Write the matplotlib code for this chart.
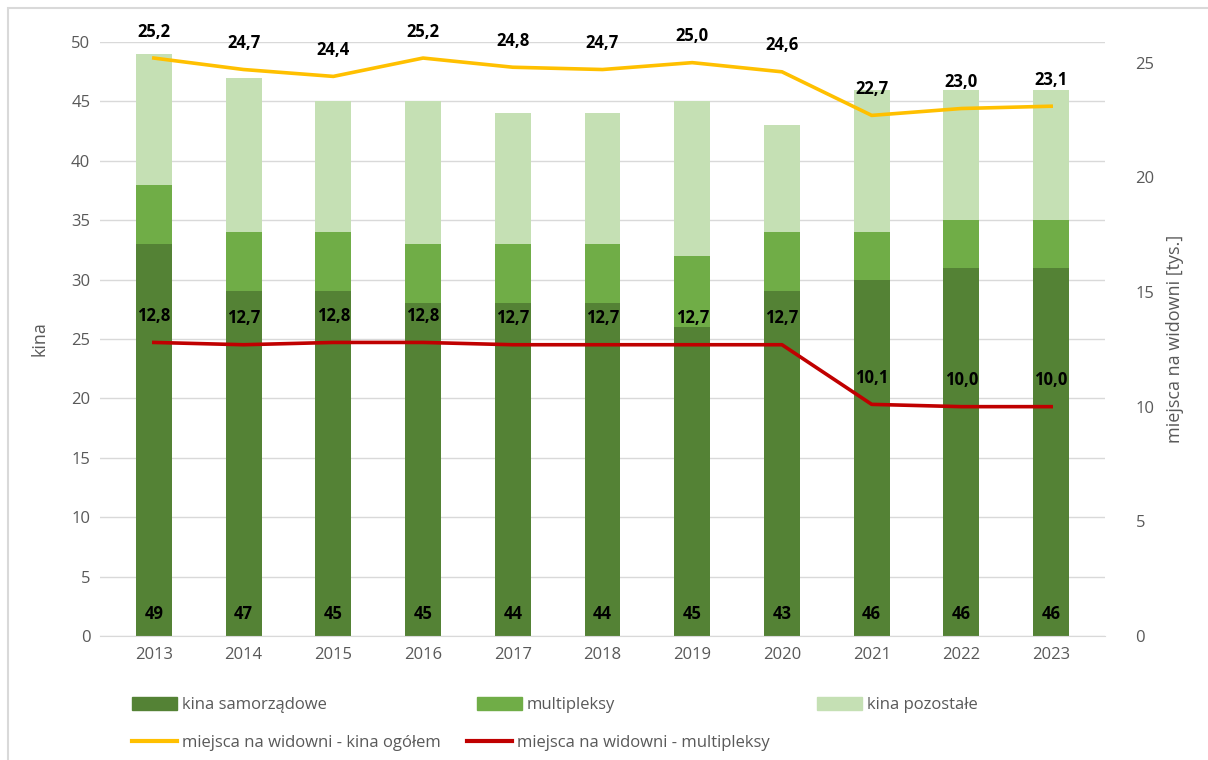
import matplotlib
matplotlib.use('agg')
import matplotlib.pyplot as plt
from matplotlib.patches import Patch, Rectangle
from matplotlib.lines import Line2D
import numpy as np

plt.rcParams['font.family'] = ['Open Sans', 'DejaVu Sans']

years = ["2013", "2014", "2015", "2016", "2017", "2018", "2019", "2020", "2021", "2022", "2023"]
samorzadowe = [33, 29, 29, 28, 28, 28, 26, 29, 30, 31, 31]
multipleksy = [5, 5, 5, 5, 5, 5, 6, 5, 4, 4, 4]
pozostale = [11, 13, 11, 12, 11, 11, 13, 9, 12, 11, 11]
miejsca_ogolem = [25.2, 24.7, 24.4, 25.2, 24.8, 24.7, 25.0, 24.6, 22.7, 23.0, 23.1]
miejsca_multi = [12.8, 12.7, 12.8, 12.8, 12.7, 12.7, 12.7, 12.7, 10.1, 10.0, 10.0]

c_dark = "#548235"
c_mid = "#70AD47"
c_light = "#C5E0B4"
c_yellow = "#FFC000"
c_red = "#C00000"
grey = "#595959"

def fmt(v):
	return ("%.1f" % v).replace(".", ",")

fig = plt.figure(figsize=(12.08, 7.6), dpi=100)
ax = fig.add_axes([100/1208, 1-636/760, 1005/1208, 594/760])
ax2 = ax.twinx()

x = np.arange(len(years))
s = np.array(samorzadowe)
m = np.array(multipleksy)
p = np.array(pozostale)
w = 0.4
ax.bar(x, s, w, color=c_dark, zorder=2)
ax.bar(x, m, w, bottom=s, color=c_mid, zorder=2)
ax.bar(x, p, w, bottom=s+m, color=c_light, zorder=2)
total = s + m + p
for xi, t in zip(x, total):
	ax.annotate(str(t), (xi, 0), xytext=(0, 16), textcoords='offset points',
		ha='center', va='center', fontsize=12, fontweight='bold', color='black')

ax.set_ylim(0, 50)
ax.set_xlim(-0.6, len(years)-0.4)
ax.set_yticks(range(0, 51, 5))
ax.set_xticks(x)
ax.set_xticklabels(years)
ax.grid(axis='y', color='#d9d9d9', lw=1, zorder=0)
ax.set_axisbelow(True)
for sp in ['top', 'right', 'left']:
	ax.spines[sp].set_visible(False)
ax.spines['bottom'].set_color('#d9d9d9')
ax.tick_params(axis='both', length=0, labelsize=12, colors=grey, pad=8)
ax.tick_params(axis='y', pad=7)
ax.set_ylabel("kina", fontsize=13, color=grey, labelpad=16)

ax2.plot(x, miejsca_ogolem, color=c_yellow, lw=2.6, zorder=3)
ax2.plot(x, miejsca_multi, color=c_red, lw=2.6, zorder=3)
for xi, v in zip(x, miejsca_ogolem):
	ax2.annotate(fmt(v), (xi, v), xytext=(0, 19), textcoords='offset points',
		ha='center', va='center', fontsize=12, fontweight='bold', color='black')
for xi, v in zip(x, miejsca_multi):
	ax2.annotate(fmt(v), (xi, v), xytext=(0, 19), textcoords='offset points',
		ha='center', va='center', fontsize=12, fontweight='bold', color='black')
ax2.set_ylim(0, 25.9)
ax2.set_yticks(range(0, 26, 5))
for sp in ['top', 'right', 'left', 'bottom']:
	ax2.spines[sp].set_visible(False)
ax2.tick_params(axis='y', length=0, labelsize=12, colors=grey, pad=22)
ax2.set_ylabel("miejsca na widowni [tys.]", fontsize=13, color=grey, labelpad=8)
ax.set_zorder(ax2.get_zorder()-1)
ax.patch.set_visible(False)

# legend entries placed one by one, like the Excel layout
entries = [
	(Patch(color=c_dark), "kina samorządowe", 125, 705),
	(Patch(color=c_mid), "multipleksy", 470, 705),
	(Patch(color=c_light), "kina pozostałe", 810, 705),
	(Line2D([], [], color=c_yellow, lw=3), "miejsca na widowni - kina ogółem", 125, 743),
	(Line2D([], [], color=c_red, lw=3), "miejsca na widowni - multipleksy", 460, 743),
]
for h, lab, lx, ly in entries:
	fig.legend([h], [lab], loc='center left', bbox_to_anchor=(lx/1208, 1-ly/760),
		frameon=False, fontsize=12, handlelength=2.7, handleheight=0.8,
		handletextpad=0.3, borderaxespad=0, labelcolor=grey)

fig.patches.append(Rectangle((8/1208, -0.05), 1.1, 1-8/760+0.05, transform=fig.transFigure,
	fill=False, edgecolor='#d9d9d9', lw=1.5))

fig.savefig("out.png", dpi=100)
